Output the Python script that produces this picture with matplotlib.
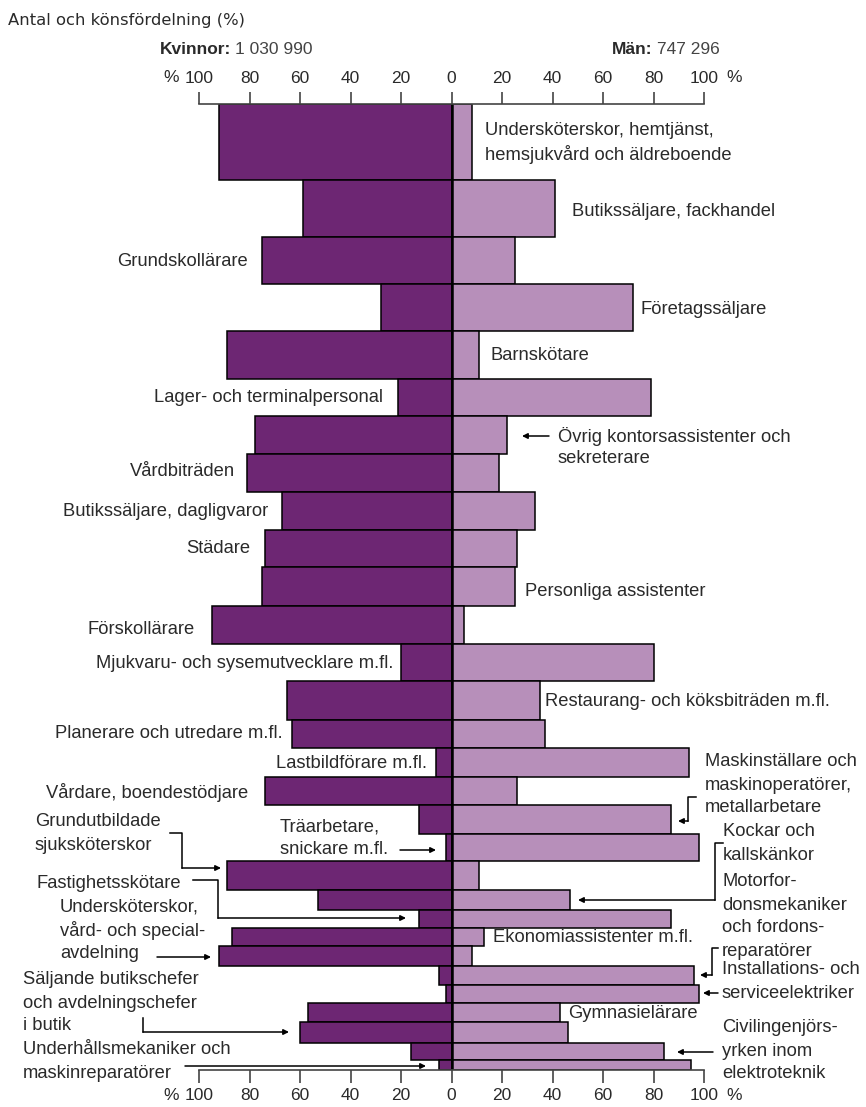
import numpy as np
import matplotlib
matplotlib.use('Agg')
import matplotlib.pyplot as plt
from matplotlib.lines import Line2D

# yrken uppifrån och ned
yrken = [
    "Undersköterskor, hemtjänst, hemsjukvård och äldreboende",
    "Butikssäljare, fackhandel", "Grundskollärare", "Företagssäljare",
    "Barnskötare", "Lager- och terminalpersonal",
    "Övrig kontorsassistenter och sekreterare", "Vårdbiträden",
    "Butikssäljare, dagligvaror", "Städare", "Personliga assistenter",
    "Förskollärare", "Mjukvaru- och sysemutvecklare m.fl.",
    "Restaurang- och köksbiträden m.fl.", "Planerare och utredare m.fl.",
    "Lastbildförare m.fl.", "Vårdare, boendestödjare",
    "Maskinställare och maskinoperatörer, metallarbetare",
    "Träarbetare, snickare m.fl.", "Grundutbildade sjuksköterskor",
    "Kockar och kallskänkor", "Fastighetsskötare",
    "Ekonomiassistenter m.fl.", "Undersköterskor, vård- och specialavdelning",
    "Motorfordonsmekaniker och fordonsreparatörer",
    "Installations- och serviceelektriker", "Gymnasielärare",
    "Säljande butikschefer och avdelningschefer i butik",
    "Civilingenjörsyrken inom elektroteknik",
    "Underhållsmekaniker och maskinreparatörer",
]
kvinnor = [92, 59, 75, 28, 89, 21, 78, 81, 67, 74, 75, 95, 20, 65, 63,
           6, 74, 13, 2, 89, 53, 13, 87, 92, 5, 2, 57, 60, 16, 5]
man = [8, 41, 25, 72, 11, 79, 22, 19, 33, 26, 25, 5, 80, 35, 37,
       94, 26, 87, 98, 11, 47, 87, 13, 8, 96, 98, 43, 46, 84, 95]
# antal sysselsatta (tusental), styr stapelns höjd
antal = [152, 114, 94, 94, 96, 74, 76, 76, 76, 74, 76, 76, 74, 78, 56,
         58, 56, 58, 54, 58, 40, 36, 36, 40, 38, 36, 38, 42, 34, 20]
ticks = [-100, -80, -60, -40, -20, 0, 20, 40, 60, 80, 100]
totalt = {"Kvinnor:": "1 030 990", "Män:": "747 296"}

MORK = '#6d2673'
LJUS = '#b78fba'
TXT = '#2a2a2a'
W, H = 866, 1107
LAB = ['Liberation Sans', 'DejaVu Sans']
FS = 13.2

fig = plt.figure(figsize=(W / 100, H / 100), dpi=100)
ax = fig.add_axes([199 / W, 37 / H, 505 / W, 966 / H])

antal = np.array(antal, dtype=float)
kant = np.concatenate([[0], np.cumsum(antal)])
mitt = (kant[:-1] + kant[1:]) / 2

ax.barh(mitt, -np.array(kvinnor), height=antal, color=MORK,
        edgecolor='black', linewidth=1.1)
ax.barh(mitt, man, height=antal, color=LJUS, edgecolor='black', linewidth=1.1)
ax.axvline(0, color='black', lw=1.8)

ax.set_xlim(-100, 100)
ax.set_ylim(kant[-1], 0)
for s in ['left', 'right']:
    ax.spines[s].set_visible(False)
for s in ['top', 'bottom']:
    ax.spines[s].set_color('#444444')
    ax.spines[s].set_linewidth(1.2)
ax.set_yticks([])
ax.set_xticks(ticks)
ax.set_xticklabels([str(abs(t)) for t in ticks])
ax.tick_params(axis='x', which='both', top=True, bottom=True,
               labeltop=True, labelbottom=True, direction='out',
               length=9, width=1.2, color='#444444', pad=4,
               labelsize=12.5, labelcolor=TXT)
for lbl in ax.get_xticklabels():
    lbl.set_family(LAB)


def P(px, py):
    return (px / W, 1 - py / H)


def txt(px, py, s, ha='left', **kw):
    fig.text(*P(px, py), s, ha=ha, va='center', fontsize=FS, color=TXT,
             family=LAB, **kw)


def lines(px, py, rows, ha='left'):
    for i, r in enumerate(rows):
        txt(px, py + i * 23, r, ha=ha)


def pil(pts):
    pts = [P(*p) for p in pts]
    if len(pts) > 2:
        xs, ys = zip(*pts[:-1])
        fig.add_artist(Line2D(xs, ys, color='black', lw=1.1,
                              transform=fig.transFigure))
    fig.add_artist(matplotlib.patches.FancyArrowPatch(
        pts[-2], pts[-1], transform=fig.transFigure, arrowstyle='-|>',
        mutation_scale=8, color='black', lw=1.1, shrinkA=0, shrinkB=0))


# rubriker
fig.text(*P(8, 20), "Antal och könsfördelning (%)", ha='left', va='center',
         fontsize=11.8, color=TXT, family='DejaVu Sans')
for (namn, tal), px in zip(totalt.items(), (160, 612)):
    t = fig.text(*P(px, 50), namn, ha='left', va='center', fontsize=12.5,
                 weight='bold', color=TXT, family=LAB)
    ax.annotate(tal, xy=(1, 0.5), xycoords=t, xytext=(3, 0),
                textcoords='offset points', ha='left', va='center',
                fontsize=12.5, color='#444444', family=LAB,
                annotation_clip=False)
for py in (78, 1096):
    fig.text(*P(171, py), "%", ha='center', va='center', fontsize=12.5,
             color=TXT, family=LAB)
    fig.text(*P(734, py), "%", ha='center', va='center', fontsize=12.5,
             color=TXT, family=LAB)

# etiketter till höger
lines(485, 131, ["Undersköterskor, hemtjänst,", "hemsjukvård och äldreboende"])
txt(572, 211, "Butikssäljare, fackhandel")
txt(640, 310, "Företagssäljare")
txt(490, 356, "Barnskötare")
lines(558, 436, ["Övrig kontorsassistenter och", "sekreterare"])
pil([(549, 436), (522, 436)])
txt(525, 591, "Personliga assistenter")
txt(545, 701, "Restaurang- och köksbiträden m.fl.")
txt(493, 938, "Ekonomiassistenter m.fl.")
txt(568, 1013, "Gymnasielärare")
lines(705, 762, ["Maskinställare och", "maskinoperatörer,", "metallarbetare"])
pil([(696, 797), (688, 797), (688, 821), (678, 821)])
lines(723, 832, ["Kockar och", "kallskänkor"])
pil([(723, 843), (715, 843), (715, 900), (578, 900)])
lines(722, 882, ["Motorfor-", "donsmekaniker", "och fordons-", "reparatörer"])
pil([(718, 948), (712, 948), (712, 975), (700, 975)])
lines(722, 970, ["Installations- och", "serviceelektriker"])
pil([(718, 993), (703, 993)])
lines(722, 1028, ["Civilingenjörs-", "yrken inom", "elektroteknik"])
pil([(713, 1052), (677, 1052)])

# etiketter till vänster
txt(248, 262, "Grundskollärare", ha='right')
txt(383, 398, "Lager- och terminalpersonal", ha='right')
txt(235, 471, "Vårdbiträden", ha='right')
txt(268, 512, "Butikssäljare, dagligvaror", ha='right')
txt(250, 549, "Städare", ha='right')
txt(195, 629, "Förskollärare", ha='right')
txt(393, 663, "Mjukvaru- och sysemutvecklare m.fl.", ha='right')
txt(283, 734, "Planerare och utredare m.fl.", ha='right')
txt(427, 764, "Lastbildförare m.fl.", ha='right',
    bbox=dict(facecolor='white', edgecolor='none', pad=1.5))
txt(248, 792, "Vårdare, boendestödjare", ha='right')
lines(280, 827, ["Träarbetare,", "snickare m.fl."])
pil([(400, 850), (436, 850)])
lines(35, 822, ["Grundutbildade", "sjuksköterskor"])
pil([(170, 833), (182, 833), (182, 868), (221, 868)])
txt(37, 883, "Fastighetsskötare")
pil([(193, 880), (218, 880), (218, 918), (406, 918)])
lines(60, 907, ["Undersköterskor,", "vård- och special-", "avdelning"])
pil([(157, 957), (211, 957)])
lines(23, 980, ["Säljande butikschefer", "och avdelningschefer", "i butik"])
pil([(143, 1018), (143, 1032), (289, 1032)])
lines(23, 1050, ["Underhållsmekaniker och", "maskinreparatörer"])
pil([(185, 1066), (426, 1066)])

fig.savefig('out.png', dpi=100, facecolor='white')
